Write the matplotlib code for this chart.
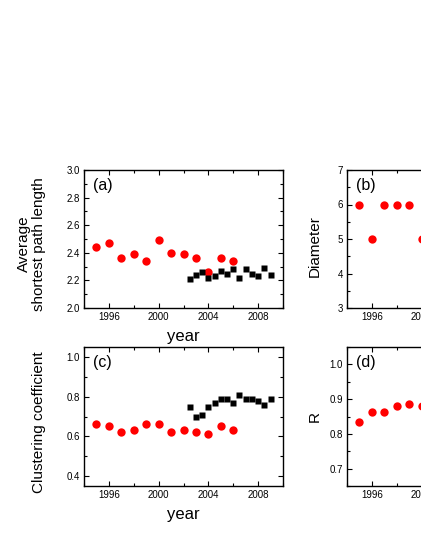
import matplotlib
matplotlib.use("Agg")
import matplotlib.pyplot as plt
from matplotlib.ticker import MultipleLocator, FormatStrFormatter

plt.rcParams['font.family'] = ['Liberation Sans', 'DejaVu Sans']

# Data
red_years = [1995, 1996, 1997, 1998, 1999, 2000, 2001, 2002, 2003, 2004, 2005, 2006]
black_years = [2002.5, 2003, 2003.5, 2004, 2004.5, 2005, 2005.5, 2006, 2006.5,
               2007, 2007.5, 2008, 2008.5, 2009]

apl_red = [2.44, 2.47, 2.36, 2.39, 2.34, 2.49, 2.40, 2.39, 2.36, 2.26, 2.36, 2.34]
apl_black = [2.21, 2.24, 2.26, 2.22, 2.23, 2.27, 2.25, 2.28, 2.22, 2.28, 2.25, 2.23, 2.29, 2.24]

clus_red = [0.66, 0.65, 0.62, 0.63, 0.66, 0.66, 0.62, 0.63, 0.62, 0.61, 0.65, 0.63]
clus_black = [0.75, 0.70, 0.71, 0.75, 0.77, 0.79, 0.79, 0.77, 0.81, 0.79, 0.79, 0.78, 0.76, 0.79]

diam_years = [1995, 1996, 1997, 1998, 1999, 2000]
diam_red = [6, 5, 6, 6, 6, 5]

r_years = [1995, 1996, 1997, 1998, 1999, 2000]
r_red = [0.835, 0.864, 0.864, 0.879, 0.886, 0.880]

xticks = [1996, 2000, 2004, 2008]

W, H = 421, 545
fig = plt.figure(figsize=(W / 100, H / 100), dpi=100)

def px_axes(left, top, right, bottom):
    return fig.add_axes([left / W, 1 - bottom / H, (right - left) / W, (bottom - top) / H])

def style(ax, ylim, ymaj, ymin):
    ax.set_xlim(1994, 2010)
    ax.set_ylim(*ylim)
    ax.set_xticks(xticks)
    ax.xaxis.set_minor_locator(MultipleLocator(2))
    ax.yaxis.set_major_locator(MultipleLocator(ymaj))
    ax.yaxis.set_minor_locator(MultipleLocator(ymin))
    ax.tick_params(which='both', direction='in', top=True, right=True, labelsize=7, pad=3)
    ax.tick_params(which='major', length=3.5, width=0.8)
    ax.tick_params(which='minor', length=2, width=0.8)
    for s in ax.spines.values():
        s.set_linewidth(1.0)

ms_c = 6
ms_s = 5
LBL = 11
PNL = 11.5

ax_a = px_axes(84, 170, 283, 308)
ax_a.plot(red_years, apl_red, 'o', color='#ff0000', ms=ms_c, mec='none')
ax_a.plot(black_years, apl_black, 's', color='black', ms=ms_s, mec='none')
style(ax_a, (2.0, 3.0), 0.2, 0.1)
ax_a.yaxis.set_major_formatter(FormatStrFormatter('%.1f'))
ax_a.set_ylabel('Average\nshortest path length', fontsize=LBL, linespacing=1.15)
ax_a.yaxis.set_label_coords(-0.19, 0.465)
ax_a.set_xlabel('year', fontsize=12, labelpad=5)
ax_a.text(0.045, 0.94, '(a)', transform=ax_a.transAxes, fontsize=PNL, va='top', ha='left')

ax_c = px_axes(84, 347, 283, 486)
ax_c.plot(red_years, clus_red, 'o', color='#ff0000', ms=ms_c, mec='none')
ax_c.plot(black_years, clus_black, 's', color='black', ms=ms_s, mec='none')
style(ax_c, (0.35, 1.05), 0.2, 0.1)
ax_c.yaxis.set_major_formatter(FormatStrFormatter('%.1f'))
ax_c.set_ylabel('Clustering coefficient', fontsize=LBL)
ax_c.yaxis.set_label_coords(-0.19, 0.46)
ax_c.set_xlabel('year', fontsize=12, labelpad=5)
ax_c.text(0.045, 0.94, '(c)', transform=ax_c.transAxes, fontsize=PNL, va='top', ha='left')

ax_b = px_axes(347, 170, 546, 308)
ax_b.plot(diam_years, diam_red, 'o', color='#ff0000', ms=ms_c, mec='none')
style(ax_b, (3, 7), 1, 0.5)
ax_b.set_ylabel('Diameter', fontsize=LBL)
ax_b.yaxis.set_label_coords(-0.125, 0.45)
ax_b.text(0.045, 0.94, '(b)', transform=ax_b.transAxes, fontsize=PNL, va='top', ha='left')

ax_d = px_axes(347, 347, 546, 486)
ax_d.plot(r_years, r_red, 'o', color='#ff0000', ms=ms_c, mec='none')
style(ax_d, (0.65, 1.05), 0.1, 0.05)
ax_d.yaxis.set_major_formatter(FormatStrFormatter('%.1f'))
ax_d.set_ylabel('R', fontsize=LBL)
ax_d.yaxis.set_label_coords(-0.125, 0.5)
ax_d.text(0.045, 0.94, '(d)', transform=ax_d.transAxes, fontsize=PNL, va='top', ha='left')

fig.savefig('out.png', dpi=100)
